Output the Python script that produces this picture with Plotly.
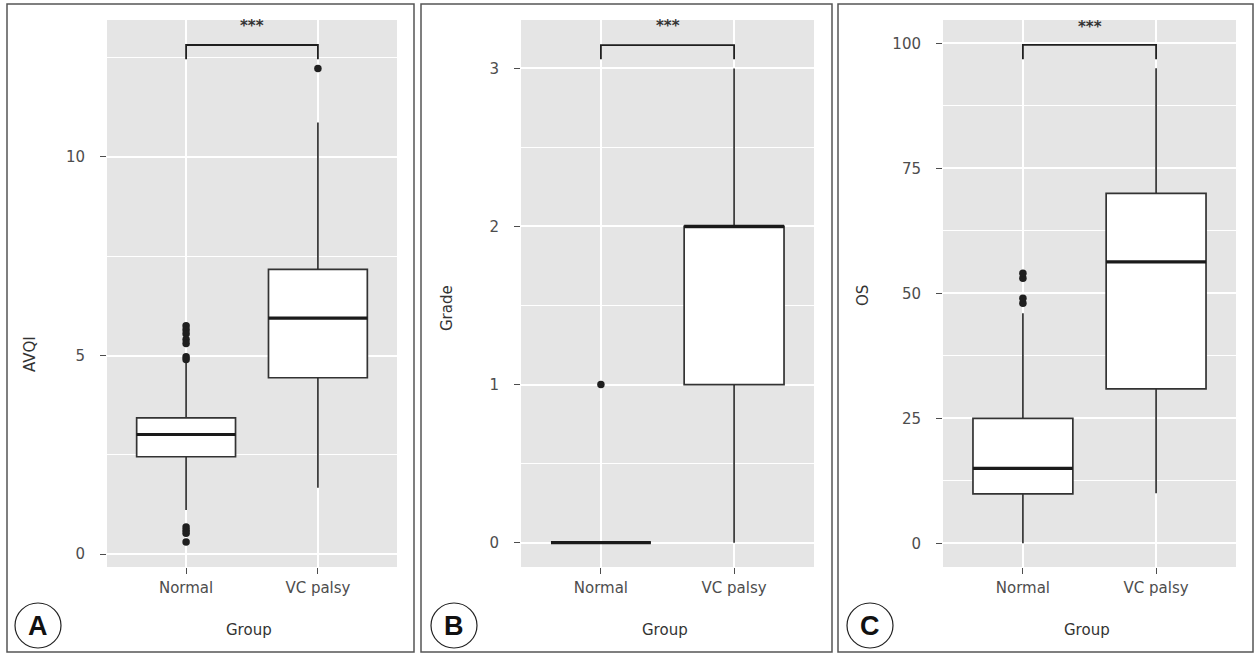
import plotly.graph_objects as go

W, H = 1255, 655

groups = ["Normal", "VC palsy"]

# Panel A: AVQI
avqi_q1 = [2.45, 4.44]
avqi_med = [3.01, 5.94]
avqi_q3 = [3.43, 7.17]
avqi_lo = [1.11, 1.67]
avqi_hi = [4.87, 10.87]
avqi_out_normal = [5.75, 5.65, 5.55, 5.4, 5.3, 4.97, 4.9, 0.68, 0.6, 0.52, 0.3]
avqi_out_vc = [12.23]

# Panel B: Grade
grade_q1 = [0, 1]
grade_med = [0, 2]
grade_q3 = [0, 2]
grade_lo = [0, 0]
grade_hi = [0, 3]
grade_out_normal = [1]
grade_out_vc = []

# Panel C: OS
os_q1 = [9.9, 30.9]
os_med = [15, 56.3]
os_q3 = [25, 70]
os_lo = [0, 10]
os_hi = [46, 95]
os_out_normal = [48, 49, 53, 54]
os_out_vc = []

panels = [
    dict(name="A", title="AVQI", q1=avqi_q1, med=avqi_med, q3=avqi_q3, lo=avqi_lo, hi=avqi_hi,
         outn=avqi_out_normal, outv=avqi_out_vc, yr=[-0.327, 13.45], dtick=5, br=[12.46, 12.82], star=13.3,
         px=(107, 397), border=(7, 414), ytitle=(30, 354), gx=249, circ=(15, 61)),
    dict(name="B", title="Grade", q1=grade_q1, med=grade_med, q3=grade_q3, lo=grade_lo, hi=grade_hi,
         outn=grade_out_normal, outv=grade_out_vc, yr=[-0.154, 3.306], dtick=1, br=[3.057, 3.147], star=3.265,
         px=(521, 814), border=(421, 832), ytitle=(447, 308), gx=665, circ=(431, 477)),
    dict(name="C", title="OS", q1=os_q1, med=os_med, q3=os_q3, lo=os_lo, hi=os_hi,
         outn=os_out_normal, outv=os_out_vc, yr=[-4.74, 104.66], dtick=25, br=[96.8, 99.7], star=103.3,
         px=(943, 1236), border=(838, 1253), ytitle=(863, 296), gx=1087, circ=(847, 893)),
]

FONT = "DejaVu Sans"
LINE = "#333333"
BG = "#E5E5E5"
TICKCOL = "#4D4D4D"

def fx(x):
    return x / W

def fy(y):
    return 1 - y / H

fig = go.Figure()
shapes = []
annotations = []
layout = dict(width=W, height=H, margin=dict(l=0, r=0, t=0, b=0), autosize=False,
              paper_bgcolor="white", showlegend=False, font=dict(family=FONT, size=15, color=TICKCOL))

ytop, ybot = 20, 567
box_w = 0.75

for i, p in enumerate(panels):
    sfx = "" if i == 0 else str(i + 1)
    xa, ya = "x" + sfx, "y" + sfx
    layout["xaxis" + sfx] = dict(
        domain=[fx(p["px"][0]), fx(p["px"][1])], anchor=ya, type="category",
        categoryorder="array", categoryarray=groups, range=[-0.6, 1.6],
        showgrid=True, gridcolor="white", gridwidth=1.6, zeroline=False,
        ticks="outside", ticklen=6, tickwidth=1.2, tickcolor=TICKCOL,
        tickfont=dict(family=FONT, size=15, color=TICKCOL), ticklabelstandoff=1,
        showline=False, fixedrange=True,
    )
    layout["yaxis" + sfx] = dict(
        domain=[fy(ybot), fy(ytop)], anchor=xa, range=p["yr"], dtick=p["dtick"], tick0=0,
        showgrid=True, gridcolor="white", gridwidth=1.6, zeroline=False,
        minor=dict(dtick=p["dtick"] / 2, tick0=0, showgrid=True, gridcolor="white", gridwidth=0.9, ticks=""),
        ticks="outside", ticklen=6, tickwidth=1.2, tickcolor=TICKCOL,
        tickfont=dict(family=FONT, size=15, color=TICKCOL), ticklabelstandoff=12,
        showline=False, fixedrange=True,
    )
    # background of plotting panel
    shapes.append(dict(type="rect", xref=xa + " domain", yref=ya + " domain", x0=0, x1=1, y0=0, y1=1,
                       fillcolor=BG, line=dict(width=0), layer="below"))

    fig.add_trace(go.Box(
        x=groups, q1=p["q1"], median=p["med"], q3=p["q3"], lowerfence=p["lo"], upperfence=p["hi"],
        width=box_w, fillcolor="white", line=dict(color=LINE, width=1.7), whiskerwidth=0,
        boxpoints=False, xaxis=xa, yaxis=ya, hoverinfo="skip",
    ))
    # thicker median line (ggplot style)
    for j, m in enumerate(p["med"]):
        shapes.append(dict(type="line", xref=xa, yref=ya, x0=j - box_w / 2, x1=j + box_w / 2, y0=m, y1=m,
                           line=dict(color="#1a1a1a", width=3.2)))
    # outliers
    ox = [groups[0]] * len(p["outn"]) + [groups[1]] * len(p["outv"])
    oy = list(p["outn"]) + list(p["outv"])
    if oy:
        fig.add_trace(go.Scatter(x=ox, y=oy, mode="markers", marker=dict(color="#1f1f1f", size=7.5),
                                 xaxis=xa, yaxis=ya, hoverinfo="skip"))
    # significance bracket
    leg, top = p["br"]
    fig.add_trace(go.Scatter(x=[groups[0], groups[0], groups[1], groups[1]], y=[leg, top, top, leg],
                             mode="lines", line=dict(color="#1f1f1f", width=1.8), xaxis=xa, yaxis=ya,
                             hoverinfo="skip"))
    annotations.append(dict(xref=xa, yref=ya, x=0.5, y=p["star"], text="<b>***</b>", showarrow=False,
                            font=dict(family=FONT, size=15, color="#333333"), yanchor="middle"))
    # y axis title
    annotations.append(dict(xref="paper", yref="paper", x=fx(p["ytitle"][0]), y=fy(p["ytitle"][1]),
                            text=p["title"], textangle=-90, showarrow=False,
                            font=dict(family=FONT, size=15, color="#333333"),
                            xanchor="center", yanchor="middle"))
    # x axis title
    annotations.append(dict(xref="paper", yref="paper", x=fx(p["gx"]), y=fy(630), text="Group",
                            showarrow=False, font=dict(family=FONT, size=15, color="#333333"),
                            xanchor="center", yanchor="middle"))
    # panel border
    shapes.append(dict(type="rect", xref="paper", yref="paper", x0=fx(p["border"][0]), x1=fx(p["border"][1]),
                       y0=fy(652), y1=fy(4), line=dict(color="#555555", width=1.5), fillcolor="rgba(0,0,0,0)"))
    # circled panel letter
    c0, c1 = p["circ"]
    shapes.append(dict(type="circle", xref="paper", yref="paper", x0=fx(c0), x1=fx(c1), y0=fy(648), y1=fy(603),
                       line=dict(color="#222222", width=1.2), fillcolor="white"))
    annotations.append(dict(xref="paper", yref="paper", x=fx((c0 + c1) / 2), y=fy(626), text="<b>%s</b>" % p["name"],
                            showarrow=False, font=dict(family="Liberation Sans", size=27, color="#111111"),
                            xanchor="center", yanchor="middle"))

layout["shapes"] = shapes
layout["annotations"] = annotations
layout["plot_bgcolor"] = "rgba(0,0,0,0)"
fig.update_layout(**layout)
fig.write_html("out.html", config={"displayModeBar": False},
               post_script="document.body.style.margin='0';document.body.style.overflow='hidden';")
